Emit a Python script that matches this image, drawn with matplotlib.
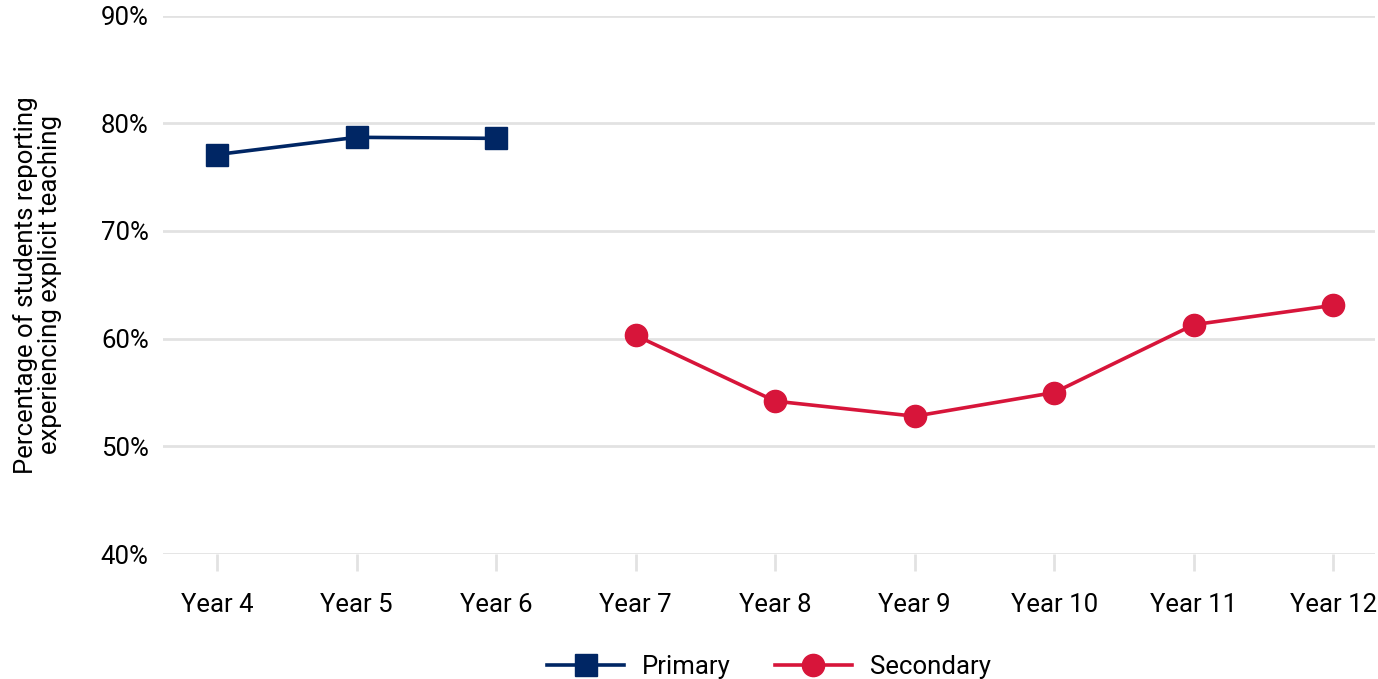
import numpy as np
import matplotlib.pyplot as plt

# datos
years = ['Year 4', 'Year 5', 'Year 6', 'Year 7', 'Year 8', 'Year 9',
         'Year 10', 'Year 11', 'Year 12']
primary = [77.1, 78.7, 78.6]
secondary = [60.3, 54.2, 52.8, 55.0, 61.3, 63.1]

plt.rcParams['font.family'] = ['Roboto', 'DejaVu Sans']

fig = plt.figure(figsize=(13.78, 6.79), dpi=100)
ax = fig.add_axes([0.118, 0.184, 0.88, 0.793])

ind = np.arange(len(years))
navy = '#002664'
red = '#d7153a'

ax.plot(ind[:3], primary, color=navy, lw=2.6, marker='s', ms=16,
        label='Primary')
ax.plot(ind[3:], secondary, color=red, lw=2.6, marker='o', ms=16,
        label='Secondary')

ax.set_ylim(40, 90)
ax.set_yticks([40, 50, 60, 70, 80, 90])
ax.set_yticklabels([f'{v}%' for v in range(40, 100, 10)])
ax.set_xlim(-0.39, 8.3)
ax.set_xticks(ind)
ax.set_xticklabels(years)

ax.grid(axis='y', color='#e2e2e2', lw=2)
ax.set_axisbelow(True)
for s in ax.spines.values():
    s.set_visible(False)
ax.tick_params(axis='y', length=0, pad=10, labelsize=18.5)
ax.tick_params(axis='x', length=12, width=2, color='#e2e2e2', pad=16,
               labelsize=18.5)

ax.set_ylabel('Percentage of students reporting\nexperiencing explicit teaching',
              fontsize=18.5, labelpad=28, linespacing=1.0)

fig.legend(loc='lower center', bbox_to_anchor=(0.558, -0.034), ncol=2,
           frameon=False, fontsize=18.5, handlelength=3.0, columnspacing=1.7,
           handletextpad=0.7)

fig.savefig('out.png', dpi=100)
